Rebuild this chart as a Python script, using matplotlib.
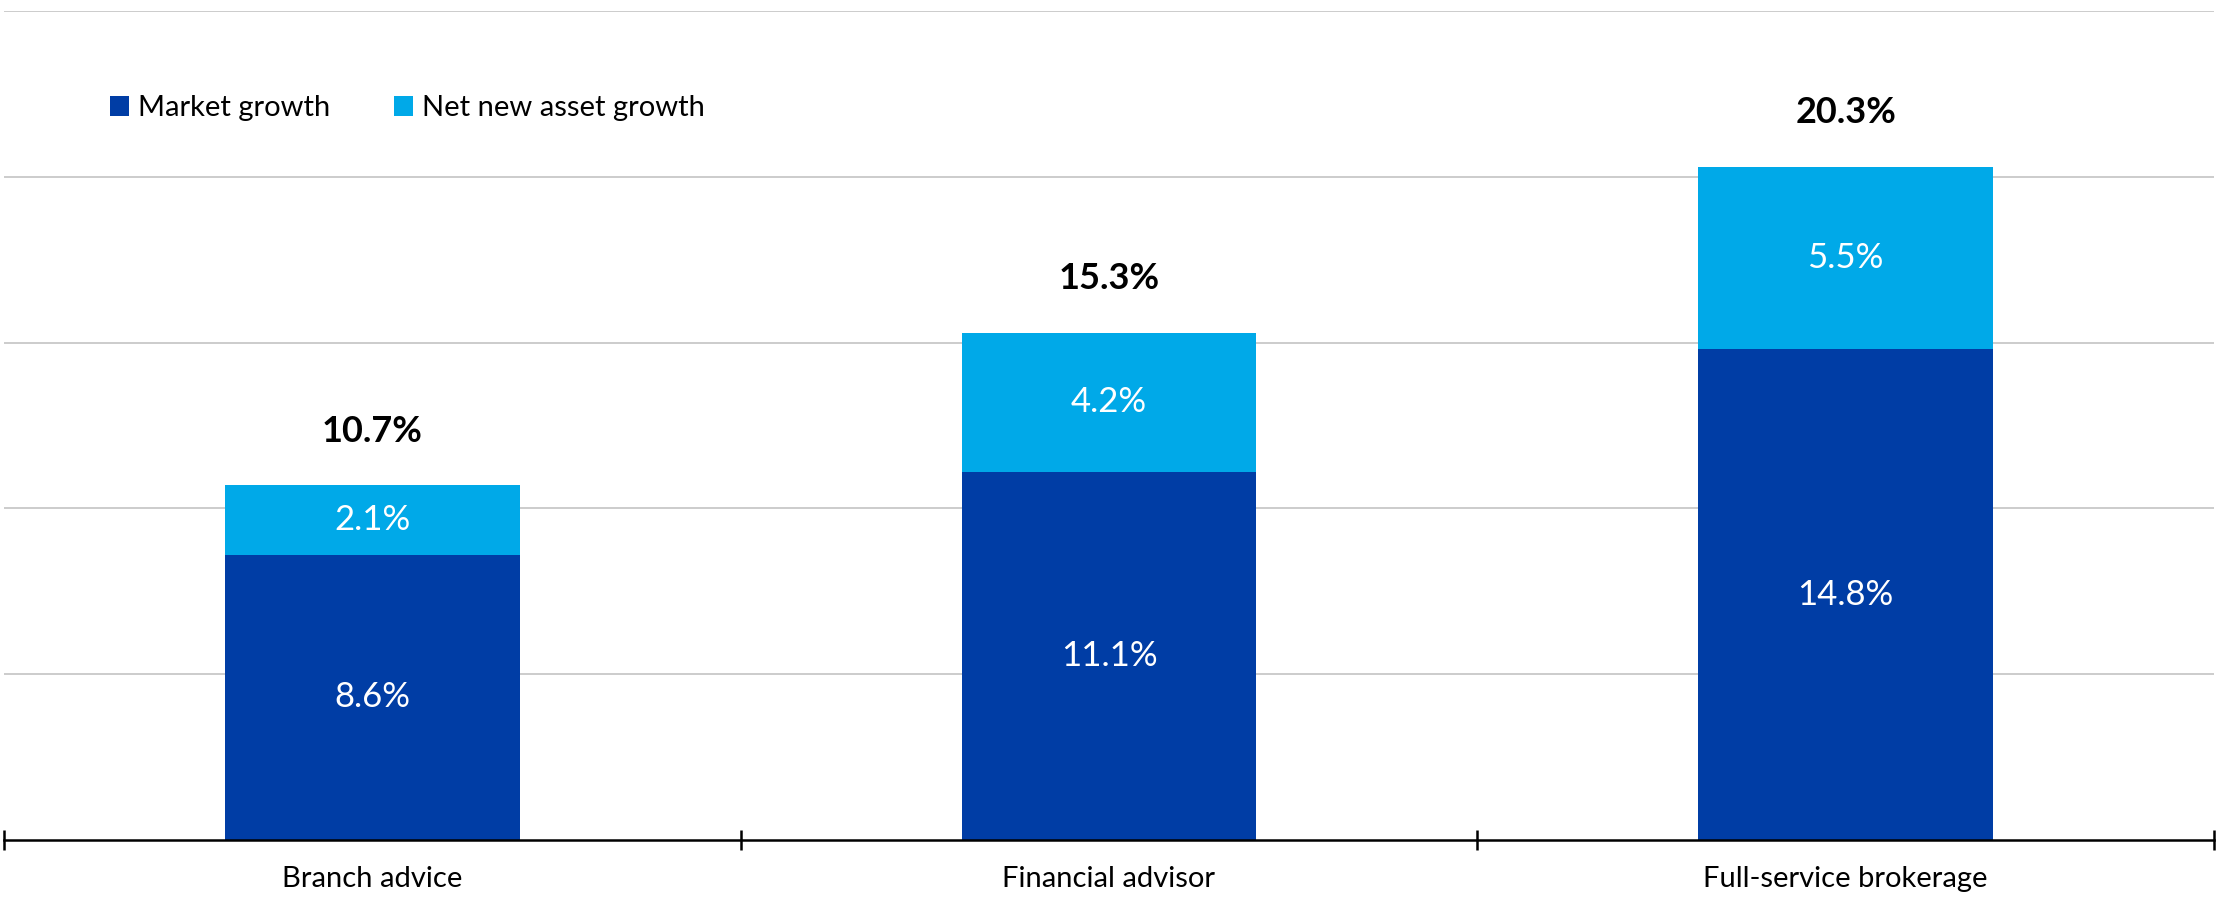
import matplotlib.pyplot as plt
import numpy as np

plt.rcParams['font.family'] = ['Lato', 'DejaVu Sans']

categories = ["Branch advice", "Financial advisor", "Full-service brokerage"]
market_growth = [8.6, 11.1, 14.8]
nna_growth = [2.1, 4.2, 5.5]
totals = [10.7, 15.3, 20.3]

dark_blue = "#003DA5"
light_blue = "#00A9E8"

fig = plt.figure(figsize=(22.21, 9.02), dpi=100)
ax = fig.add_axes([0.0018, 0.0687, 0.995, 0.919])

x = np.arange(len(categories))
w = 0.4
b1 = ax.bar(x, market_growth, w, color=dark_blue, label="Market growth", zorder=3)
b2 = ax.bar(x, nna_growth, w, bottom=market_growth, color=light_blue,
            label="Net new asset growth", zorder=3)

# segment labels
for i in range(len(categories)):
    ax.text(x[i], market_growth[i] / 2, f"{market_growth[i]:.1f}%", ha="center", va="center",
            color="white", fontsize=25)
    ax.text(x[i], market_growth[i] + nna_growth[i] / 2, f"{nna_growth[i]:.1f}%", ha="center",
            va="center", color="white", fontsize=25)
    ax.annotate(f"{totals[i]:.1f}%", (x[i], market_growth[i] + nna_growth[i]),
                xytext=(0, 39), textcoords="offset points", ha="center", va="center",
                fontsize=26, fontweight="bold", color="black")

ax.set_xlim(-0.5, 2.5)
ax.set_ylim(0, 25)
ax.set_yticks([5, 10, 15, 20, 25])
ax.yaxis.grid(True, color="#C8C8C8", linewidth=1.3, zorder=0)
ax.tick_params(axis="y", length=0, labelleft=False)

# category boundaries as major ticks, labels on minor ticks
ax.set_xticks([-0.5, 0.5, 1.5, 2.5])
ax.set_xticklabels([])
ax.tick_params(axis="x", which="major", direction="inout", length=14, width=1.8, color="black")
ax.set_xticks(x, minor=True)
ax.set_xticklabels(categories, minor=True, fontsize=21)
ax.tick_params(axis="x", which="minor", length=0, pad=19)

for s in ["top", "left", "right"]:
    ax.spines[s].set_visible(False)
ax.spines["bottom"].set_linewidth(1.8)
ax.spines["bottom"].set_color("black")
ax.spines["bottom"].set_zorder(4)

ax.legend(loc="upper left", bbox_to_anchor=(0.036, 0.93), ncol=2, frameon=False, fontsize=21,
          handlelength=0.65, handleheight=0.65, handletextpad=0.3, columnspacing=2.2)

plt.savefig("out.png", dpi=100)
